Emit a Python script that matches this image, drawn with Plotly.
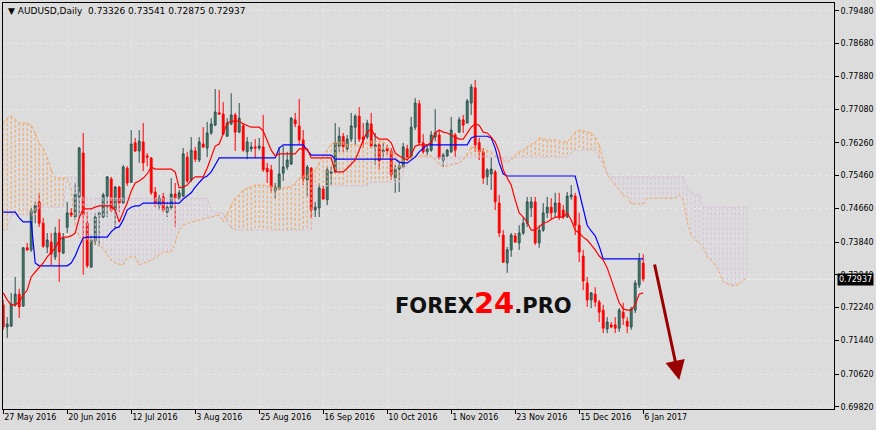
import pandas as pd
import plotly.graph_objects as go

symbol = "AUDUSD,Daily"
first_bar = "2016-05-27"

opens = [
    0.7231, 0.7177, 0.7179, 0.7231, 0.7257, 0.7228, 0.7370, 0.7365, 0.7455, 0.7482,
    0.7430, 0.7372, 0.7384, 0.7348, 0.7406, 0.7357, 0.7420, 0.7455, 0.7445, 0.7494,
    0.7601, 0.7430, 0.7323, 0.7387, 0.7450, 0.7445, 0.7496, 0.7538, 0.7462, 0.7518,
    0.7479, 0.7564, 0.7530, 0.7626, 0.7606, 0.7628, 0.7594, 0.7589, 0.7506, 0.7474,
    0.7494, 0.7457, 0.7467, 0.7501, 0.7489, 0.7496, 0.7591, 0.7535, 0.7606, 0.7584,
    0.7623, 0.7613, 0.7650, 0.7669, 0.7699, 0.7696, 0.7642, 0.7672, 0.7694, 0.7652,
    0.7667, 0.7604, 0.7611, 0.7616, 0.7613, 0.7616, 0.7564, 0.7560, 0.7509, 0.7513,
    0.7552, 0.7567, 0.7574, 0.7682, 0.7667, 0.7633, 0.7535, 0.7564, 0.7462, 0.7467,
    0.7513, 0.7487, 0.7552, 0.7555, 0.7618, 0.7642, 0.7611, 0.7635, 0.7664, 0.7691,
    0.7640, 0.7640, 0.7672, 0.7616, 0.7621, 0.7604, 0.7613, 0.7606, 0.7540, 0.7562,
    0.7567, 0.7611, 0.7591, 0.7664, 0.7721, 0.7626, 0.7604, 0.7608, 0.7640, 0.7645,
    0.7584, 0.7594, 0.7604, 0.7645, 0.7652, 0.7682, 0.7674, 0.7723, 0.7760, 0.7626,
    0.7604, 0.7543, 0.7550, 0.7555, 0.7479, 0.7401, 0.7333, 0.7365, 0.7399, 0.7382,
    0.7406, 0.7430, 0.7467, 0.7482, 0.7382, 0.7413, 0.7455, 0.7469, 0.7457, 0.7479,
    0.7462, 0.7445, 0.7494, 0.7496, 0.7425, 0.7350, 0.7284, 0.7243, 0.7257, 0.7238,
    0.7218, 0.7172, 0.7182, 0.7182, 0.7174, 0.7213, 0.7191, 0.7177, 0.7218, 0.7279,
    0.73326,
]
highs = [
    0.7243, 0.7201, 0.7260, 0.7299, 0.7270, 0.7372, 0.7382, 0.7467, 0.7482, 0.7504,
    0.7443, 0.7406, 0.7406, 0.7421, 0.7440, 0.7406, 0.7482, 0.7467, 0.7528, 0.7616,
    0.7650, 0.7457, 0.7401, 0.7455, 0.7457, 0.7504, 0.7545, 0.7543, 0.7521, 0.7521,
    0.7572, 0.7569, 0.7657, 0.7638, 0.7657, 0.7674, 0.7601, 0.7591, 0.7518, 0.7499,
    0.7504, 0.7482, 0.7540, 0.7528, 0.7511, 0.7613, 0.7604, 0.7640, 0.7616, 0.7640,
    0.7664, 0.7677, 0.7686, 0.7757, 0.7755, 0.7725, 0.7686, 0.7747, 0.7699, 0.7723,
    0.7674, 0.7640, 0.7628, 0.7635, 0.7638, 0.7694, 0.7577, 0.7572, 0.7528, 0.7616,
    0.7618, 0.7604, 0.7689, 0.7699, 0.7733, 0.7657, 0.7572, 0.7567, 0.7482, 0.7528,
    0.7521, 0.7567, 0.7567, 0.7674, 0.7664, 0.7650, 0.7645, 0.7699, 0.7696, 0.7713,
    0.7674, 0.7682, 0.7699, 0.7650, 0.7626, 0.7626, 0.7621, 0.7613, 0.7572, 0.7577,
    0.7626, 0.7621, 0.7689, 0.7735, 0.7730, 0.7647, 0.7621, 0.7655, 0.7708, 0.7655,
    0.7601, 0.7611, 0.7689, 0.7650, 0.7689, 0.7694, 0.7733, 0.7769, 0.7779, 0.7638,
    0.7613, 0.7564, 0.7591, 0.7560, 0.7499, 0.7413, 0.7372, 0.7406, 0.7406, 0.7425,
    0.7445, 0.7494, 0.7494, 0.7494, 0.7425, 0.7479, 0.7494, 0.7491, 0.7504, 0.7504,
    0.7474, 0.7506, 0.7523, 0.7504, 0.7455, 0.7365, 0.7299, 0.7262, 0.7274, 0.7243,
    0.7231, 0.7201, 0.7189, 0.7201, 0.7223, 0.7236, 0.7201, 0.7226, 0.7291, 0.7357,
    0.73541,
]
lows = [
    0.7170, 0.7150, 0.7177, 0.7226, 0.7199, 0.7226, 0.7362, 0.7360, 0.7430, 0.7421,
    0.7370, 0.7357, 0.7328, 0.7340, 0.7287, 0.7355, 0.7406, 0.7445, 0.7438, 0.7443,
    0.7304, 0.7321, 0.7321, 0.7377, 0.7374, 0.7443, 0.7445, 0.7457, 0.7416, 0.7457,
    0.7477, 0.7521, 0.7528, 0.7604, 0.7577, 0.7557, 0.7569, 0.7499, 0.7469, 0.7462,
    0.7457, 0.7445, 0.7462, 0.7421, 0.7487, 0.7494, 0.7528, 0.7530, 0.7579, 0.7579,
    0.7613, 0.7591, 0.7645, 0.7667, 0.7694, 0.7645, 0.7640, 0.7669, 0.7606, 0.7650,
    0.7604, 0.7586, 0.7604, 0.7589, 0.7608, 0.7555, 0.7528, 0.7504, 0.7491, 0.7511,
    0.7533, 0.7560, 0.7572, 0.7664, 0.7621, 0.7523, 0.7494, 0.7443, 0.7445, 0.7445,
    0.7487, 0.7474, 0.7523, 0.7552, 0.7604, 0.7604, 0.7604, 0.7628, 0.7621, 0.7628,
    0.7613, 0.7635, 0.7613, 0.7572, 0.7560, 0.7589, 0.7596, 0.7535, 0.7504, 0.7506,
    0.7564, 0.7584, 0.7586, 0.7657, 0.7621, 0.7599, 0.7596, 0.7604, 0.7630, 0.7584,
    0.7567, 0.7591, 0.7601, 0.7591, 0.7650, 0.7650, 0.7674, 0.7694, 0.7604, 0.7584,
    0.7526, 0.7523, 0.7511, 0.7462, 0.7396, 0.7333, 0.7309, 0.7348, 0.7382, 0.7365,
    0.7401, 0.7421, 0.7445, 0.7377, 0.7370, 0.7409, 0.7443, 0.7438, 0.7443, 0.7438,
    0.7440, 0.7443, 0.7487, 0.7401, 0.7335, 0.7267, 0.7226, 0.7223, 0.7226, 0.7189,
    0.7162, 0.7162, 0.7174, 0.7162, 0.7165, 0.7182, 0.7162, 0.7170, 0.7211, 0.7272,
    0.72875,
]
closes = [
    0.7177, 0.7184, 0.7233, 0.7257, 0.7226, 0.7370, 0.7365, 0.7460, 0.7474, 0.7430,
    0.7374, 0.7389, 0.7355, 0.7406, 0.7360, 0.7394, 0.7455, 0.7450, 0.7501, 0.7613,
    0.7450, 0.7326, 0.7389, 0.7445, 0.7455, 0.7499, 0.7543, 0.7462, 0.7518, 0.7479,
    0.7567, 0.7528, 0.7623, 0.7606, 0.7630, 0.7577, 0.7591, 0.7504, 0.7479, 0.7491,
    0.7462, 0.7469, 0.7501, 0.7491, 0.7504, 0.7599, 0.7533, 0.7608, 0.7586, 0.7628,
    0.7616, 0.7650, 0.7672, 0.7701, 0.7696, 0.7647, 0.7674, 0.7694, 0.7652, 0.7686,
    0.7608, 0.7628, 0.7616, 0.7613, 0.7618, 0.7560, 0.7555, 0.7518, 0.7518, 0.7550,
    0.7567, 0.7584, 0.7686, 0.7672, 0.7633, 0.7538, 0.7567, 0.7462, 0.7469, 0.7516,
    0.7489, 0.7560, 0.7555, 0.7626, 0.7642, 0.7616, 0.7635, 0.7667, 0.7691, 0.7635,
    0.7633, 0.7674, 0.7618, 0.7621, 0.7582, 0.7608, 0.7606, 0.7548, 0.7562, 0.7569,
    0.7616, 0.7591, 0.7664, 0.7723, 0.7626, 0.7604, 0.7611, 0.7645, 0.7650, 0.7589,
    0.7596, 0.7608, 0.7657, 0.7608, 0.7682, 0.7669, 0.7728, 0.7762, 0.7621, 0.7604,
    0.7540, 0.7560, 0.7562, 0.7482, 0.7406, 0.7335, 0.7365, 0.7401, 0.7384, 0.7406,
    0.7430, 0.7482, 0.7482, 0.7382, 0.7413, 0.7455, 0.7469, 0.7455, 0.7479, 0.7445,
    0.7445, 0.7496, 0.7499, 0.7425, 0.7360, 0.7289, 0.7243, 0.7260, 0.7238, 0.7213,
    0.7174, 0.7189, 0.7177, 0.7174, 0.7218, 0.7199, 0.7179, 0.7221, 0.7284, 0.7340,
    0.72937,
]

tenkan = [
    0.7260, 0.7243, 0.7231, 0.7231, 0.7238, 0.7255, 0.7267, 0.7299, 0.7311, 0.7321,
    0.7333, 0.7348, 0.7360, 0.7370, 0.7389, 0.7396, 0.7396, 0.7399, 0.7406, 0.7443,
    0.7465, 0.7465, 0.7465, 0.7469, 0.7472, 0.7472, 0.7472, 0.7472, 0.7462, 0.7433,
    0.7457, 0.7479, 0.7508, 0.7528, 0.7533, 0.7540, 0.7550, 0.7567, 0.7562, 0.7562,
    0.7562, 0.7562, 0.7562, 0.7555, 0.7516, 0.7518, 0.7523, 0.7535, 0.7543, 0.7543,
    0.7543, 0.7564, 0.7591, 0.7618, 0.7623, 0.7647, 0.7674, 0.7679, 0.7679, 0.7679,
    0.7672, 0.7667, 0.7664, 0.7664, 0.7664, 0.7655, 0.7633, 0.7608, 0.7594, 0.7599,
    0.7599, 0.7599, 0.7599, 0.7599, 0.7611, 0.7611, 0.7611, 0.7589, 0.7589, 0.7589,
    0.7589, 0.7589, 0.7589, 0.7555, 0.7555, 0.7555, 0.7564, 0.7574, 0.7584, 0.7608,
    0.7633, 0.7652, 0.7660, 0.7642, 0.7635, 0.7635, 0.7635, 0.7626, 0.7601, 0.7594,
    0.7589, 0.7584, 0.7596, 0.7618, 0.7621, 0.7621, 0.7621, 0.7626, 0.7650, 0.7657,
    0.7652, 0.7650, 0.7645, 0.7638, 0.7635, 0.7635, 0.7650, 0.7664, 0.7672, 0.7669,
    0.7652, 0.7650, 0.7640, 0.7628, 0.7604, 0.7560, 0.7540, 0.7523, 0.7487, 0.7455,
    0.7445, 0.7433, 0.7413, 0.7413, 0.7421, 0.7430, 0.7433, 0.7440, 0.7445, 0.7445,
    0.7445, 0.7455, 0.7438, 0.7413, 0.7406, 0.7396, 0.7389, 0.7377, 0.7365, 0.7350,
    0.7340, 0.7321, 0.7291, 0.7262, 0.7236, 0.7221, 0.7218, 0.7218, 0.7231, 0.7257,
    0.7260,
]

kijun = [
    0.7457, 0.7457, 0.7457, 0.7457, 0.7443, 0.7433, 0.7433, 0.7433, 0.7333, 0.7326,
    0.7326, 0.7326, 0.7326, 0.7326, 0.7326, 0.7326, 0.7326, 0.7333, 0.7350, 0.7374,
    0.7394, 0.7396, 0.7396, 0.7396, 0.7396, 0.7396, 0.7396, 0.7409, 0.7418, 0.7421,
    0.7438, 0.7462, 0.7469, 0.7472, 0.7472, 0.7479, 0.7479, 0.7479, 0.7479, 0.7479,
    0.7479, 0.7479, 0.7479, 0.7479, 0.7479, 0.7489, 0.7496, 0.7504, 0.7518, 0.7528,
    0.7540, 0.7545, 0.7555, 0.7572, 0.7589, 0.7589, 0.7589, 0.7589, 0.7589, 0.7589,
    0.7589, 0.7589, 0.7589, 0.7589, 0.7589, 0.7589, 0.7589, 0.7589, 0.7589, 0.7613,
    0.7621, 0.7621, 0.7621, 0.7621, 0.7621, 0.7621, 0.7608, 0.7596, 0.7596, 0.7596,
    0.7596, 0.7596, 0.7596, 0.7586, 0.7586, 0.7586, 0.7586, 0.7586, 0.7586, 0.7586,
    0.7586, 0.7586, 0.7586, 0.7586, 0.7586, 0.7586, 0.7586, 0.7586, 0.7586, 0.7579,
    0.7577, 0.7577, 0.7584, 0.7591, 0.7604, 0.7613, 0.7621, 0.7621, 0.7621, 0.7621,
    0.7621, 0.7621, 0.7621, 0.7621, 0.7621, 0.7621, 0.7621, 0.7638, 0.7642, 0.7642,
    0.7642, 0.7642, 0.7638, 0.7613, 0.7577, 0.7550, 0.7545, 0.7545, 0.7545, 0.7545,
    0.7545, 0.7545, 0.7545, 0.7545, 0.7545, 0.7545, 0.7545, 0.7545, 0.7545, 0.7545,
    0.7545, 0.7545, 0.7545, 0.7545, 0.7506, 0.7462, 0.7425, 0.7411, 0.7399, 0.7374,
    0.7343, 0.7343, 0.7343, 0.7343, 0.7343, 0.7343, 0.7343, 0.7343, 0.7343, 0.7343,
    0.7343,
]

senkou_a = [
    0.7674, 0.7686, 0.7691, 0.7682, 0.7674, 0.7674, 0.7674, 0.7669, 0.7650, 0.7626,
    0.7613, 0.7591, 0.7560, 0.7540, 0.7540, 0.7540, 0.7540, 0.7511, 0.7425, 0.7396,
    0.7389, 0.7389, 0.7384, 0.7382, 0.7374, 0.7370, 0.7352, 0.7340, 0.7333, 0.7330,
    0.7328, 0.7345, 0.7348, 0.7348, 0.7328, 0.7333, 0.7335, 0.7340, 0.7345, 0.7352,
    0.7360, 0.7360, 0.7360, 0.7382, 0.7413, 0.7425, 0.7430, 0.7433, 0.7435, 0.7438,
    0.7440, 0.7443, 0.7445, 0.7447, 0.7450, 0.7433, 0.7455, 0.7474, 0.7491, 0.7499,
    0.7511, 0.7516, 0.7518, 0.7523, 0.7523, 0.7523, 0.7521, 0.7521, 0.7516, 0.7516,
    0.7516, 0.7518, 0.7518, 0.7528, 0.7540, 0.7545, 0.7547, 0.7555, 0.7560, 0.7577,
    0.7596, 0.7608, 0.7623, 0.7628, 0.7628, 0.7628, 0.7621, 0.7621, 0.7621, 0.7621,
    0.7621, 0.7628, 0.7630, 0.7630, 0.7630, 0.7630, 0.7618, 0.7604, 0.7591, 0.7584,
    0.7584, 0.7589, 0.7591, 0.7594, 0.7594, 0.7594, 0.7594, 0.7594, 0.7584, 0.7572,
    0.7569, 0.7569, 0.7572, 0.7574, 0.7577, 0.7584, 0.7599, 0.7616, 0.7613, 0.7608,
    0.7608, 0.7608, 0.7604, 0.7594, 0.7589, 0.7584, 0.7579, 0.7584, 0.7596, 0.7604,
    0.7608, 0.7616, 0.7621, 0.7628, 0.7638, 0.7635, 0.7633, 0.7633, 0.7633, 0.7630,
    0.7628, 0.7628, 0.7640, 0.7652, 0.7657, 0.7655, 0.7652, 0.7650, 0.7640, 0.7621,
    0.7584, 0.7547, 0.7535, 0.7523, 0.7511, 0.7496, 0.7496, 0.7477, 0.7477, 0.7477,
    0.7477, 0.7491, 0.7491, 0.7491, 0.7491, 0.7491, 0.7491, 0.7491, 0.7491, 0.7499,
    0.7487, 0.7433, 0.7399, 0.7389, 0.7382, 0.7372, 0.7348, 0.7340, 0.7328, 0.7311,
    0.7287, 0.7282, 0.7279, 0.7277, 0.7282, 0.7289, 0.7299,
]

senkou_b = [
    0.7413, 0.7413, 0.7450, 0.7450, 0.7450, 0.7450, 0.7450, 0.7450, 0.7450, 0.7469,
    0.7469, 0.7469, 0.7469, 0.7469, 0.7469, 0.7469, 0.7543, 0.7543, 0.7543, 0.7504,
    0.7491, 0.7491, 0.7491, 0.7491, 0.7491, 0.7491, 0.7491, 0.7491, 0.7491, 0.7491,
    0.7491, 0.7491, 0.7491, 0.7491, 0.7491, 0.7491, 0.7491, 0.7491, 0.7491, 0.7491,
    0.7491, 0.7491, 0.7491, 0.7491, 0.7491, 0.7491, 0.7491, 0.7491, 0.7491, 0.7491,
    0.7491, 0.7491, 0.7462, 0.7455, 0.7455, 0.7455, 0.7433, 0.7418, 0.7413, 0.7413,
    0.7413, 0.7413, 0.7413, 0.7413, 0.7413, 0.7413, 0.7413, 0.7413, 0.7413, 0.7413,
    0.7413, 0.7413, 0.7413, 0.7413, 0.7413, 0.7413, 0.7413, 0.7413, 0.7521, 0.7521,
    0.7521, 0.7521, 0.7521, 0.7521, 0.7521, 0.7521, 0.7521, 0.7521, 0.7521, 0.7521,
    0.7521, 0.7521, 0.7530, 0.7530, 0.7530, 0.7530, 0.7530, 0.7530, 0.7530, 0.7530,
    0.7555, 0.7574, 0.7582, 0.7591, 0.7591, 0.7591, 0.7591, 0.7591, 0.7591, 0.7591,
    0.7591, 0.7591, 0.7591, 0.7591, 0.7591, 0.7591, 0.7591, 0.7591, 0.7591, 0.7591,
    0.7591, 0.7591, 0.7591, 0.7591, 0.7591, 0.7591, 0.7591, 0.7591, 0.7591, 0.7591,
    0.7591, 0.7591, 0.7591, 0.7591, 0.7591, 0.7591, 0.7591, 0.7591, 0.7591, 0.7591,
    0.7591, 0.7591, 0.7601, 0.7608, 0.7608, 0.7608, 0.7608, 0.7608, 0.7608, 0.7589,
    0.7569, 0.7555, 0.7543, 0.7543, 0.7543, 0.7543, 0.7543, 0.7543, 0.7543, 0.7543,
    0.7543, 0.7543, 0.7543, 0.7543, 0.7543, 0.7543, 0.7543, 0.7543, 0.7543, 0.7543,
    0.7543, 0.7516, 0.7506, 0.7499, 0.7499, 0.7469, 0.7469, 0.7469, 0.7469, 0.7469,
    0.7469, 0.7469, 0.7469, 0.7469, 0.7469, 0.7469, 0.7469,
]

tick_labels = ["27 May 2016", "20 Jun 2016", "12 Jul 2016", "3 Aug 2016", "25 Aug 2016",
               "16 Sep 2016", "10 Oct 2016", "1 Nov 2016", "23 Nov 2016", "15 Dec 2016",
               "6 Jan 2017"]
price_ticks = [0.7948, 0.7868, 0.7788, 0.7708, 0.7626, 0.7546, 0.7466, 0.7384,
               0.7304, 0.7224, 0.7144, 0.7062, 0.6982]

# ---------------------------------------------------------------------------
BG = "#dcdcdc"
GRID = "#e9e9e9"
SANDY = "#f4a460"
THISTLE = "#d8bfd8"
FONT = "DejaVu Sans"

n_bars = len(closes)
dates = pd.bdate_range(first_bar, periods=len(senkou_a))
cats = [d.strftime("%Y-%m-%d") for d in dates]
bar_x = cats[:n_bars]
tick_vals = [pd.to_datetime(t, format="%d %b %Y").strftime("%Y-%m-%d") for t in tick_labels]

# cloud hatching: one vertical dotted stroke per bar between the two spans
ux, uy, dx, dy = [], [], [], []
for c, a, b in zip(cats, senkou_a, senkou_b):
    if a >= b:
        ux += [c, c, None]
        uy += [a, b, None]
    else:
        dx += [c, c, None]
        dy += [b, a, None]

fig = go.Figure()
fig.add_trace(go.Scatter(x=dx, y=dy, mode="lines", line=dict(color=THISTLE, width=1, dash="3px,2px"),
                         hoverinfo="skip", showlegend=False))
fig.add_trace(go.Scatter(x=ux, y=uy, mode="lines", line=dict(color=SANDY, width=1, dash="3px,2px"),
                         hoverinfo="skip", showlegend=False))
fig.add_trace(go.Scatter(x=cats, y=senkou_b, mode="lines", line=dict(color=THISTLE, width=1, dash="3px,2px"),
                         showlegend=False))
fig.add_trace(go.Scatter(x=cats, y=senkou_a, mode="lines", line=dict(color=SANDY, width=1, dash="3px,2px"),
                         showlegend=False))
fig.add_trace(go.Candlestick(
    x=bar_x, open=opens, high=highs, low=lows, close=closes,
    increasing=dict(line=dict(color="#2f4f4f", width=1), fillcolor="#3c8a66"),
    decreasing=dict(line=dict(color="#ff0000", width=1), fillcolor="#ff0000"),
    whiskerwidth=0, showlegend=False))
fig.add_trace(go.Scatter(x=bar_x, y=kijun, mode="lines", line=dict(color="#0000ff", width=1.2),
                         showlegend=False))
fig.add_trace(go.Scatter(x=bar_x, y=tenkan, mode="lines", line=dict(color="#ff0000", width=1.2),
                         showlegend=False))

last_close = closes[-1]
header = "▼ {}  {:.5f} {:.5f} {:.5f} {:.5f}".format(symbol, opens[-1], highs[-1], lows[-1], closes[-1])

fig.update_layout(
    width=876, height=430,
    margin=dict(l=3, r=42, t=3, b=21, pad=0),
    paper_bgcolor=BG, plot_bgcolor=BG,
    boxgap=0.35,
    font=dict(family=FONT, size=8, color="#000000"),
    xaxis=dict(
        type="category", categoryorder="array", categoryarray=cats,
        range=[-0.05, 207.7], rangeslider=dict(visible=False),
        tickmode="array", tickvals=tick_vals, ticktext=tick_labels,
        ticks="outside", ticklen=4, tickcolor="#000000",
        ticklabelposition="outside right",
        tickfont=dict(family=FONT, size=8, color="#000000"),
        showline=True, linecolor="#000000", linewidth=1, mirror=True,
        showgrid=True, gridcolor=GRID, griddash="3px,3px", gridwidth=1,
        zeroline=False, automargin=False,
    ),
    yaxis=dict(
        side="right", range=[0.69770, 0.79668],
        tickmode="array", tickvals=price_ticks, ticktext=["%.5f" % v for v in price_ticks],
        ticks="outside", ticklen=4, tickcolor="#000000",
        tickfont=dict(family=FONT, size=8, color="#000000"),
        showline=True, linecolor="#000000", linewidth=1, mirror=True,
        showgrid=True, gridcolor=GRID, griddash="3px,3px", gridwidth=1,
        zeroline=False, automargin=False,
    ),
    shapes=[dict(type="line", xref="paper", yref="y", x0=0, x1=1, y0=last_close, y1=last_close,
                 line=dict(color="#ececec", width=1), layer="below")],
    annotations=[
        dict(xref="paper", yref="paper", x=0.004, y=0.981, xanchor="left", yanchor="middle",
             text=header, showarrow=False, font=dict(family=FONT, size=9, color="#000000")),
        dict(xref="paper", yref="y", x=1, y=last_close, xshift=3, xanchor="left", yanchor="middle",
             text="%.5f" % last_close, showarrow=False, bgcolor="#000000", borderpad=1,
             font=dict(family=FONT, size=8, color="#ffffff")),
        dict(xref="paper", yref="paper", x=0.5788, y=0.2611, xanchor="center", yanchor="middle",
             text="<b>FOREX<span style='color:#ff0000;font-size:29px'>24</span>.PRO</b>",
             showarrow=False, font=dict(family=FONT, size=21, color="#111111")),
        dict(xref="paper", yref="paper", x=0.8138, y=0.0714, ax=-25, ay=-117,
             text="", showarrow=True, arrowhead=2, arrowsize=1.3, arrowwidth=3,
             arrowcolor="#9a0000"),
    ],
)

fig.write_html("out.html",
               config={"displayModeBar": False},
               post_script="document.body.style.margin='0';document.body.style.background='%s';" % BG)
